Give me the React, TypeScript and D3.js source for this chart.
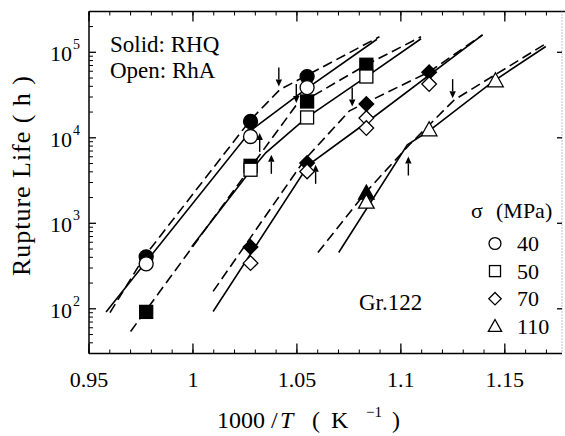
import React from "react";
import * as d3 from "d3";

type Pt = [number, number];

// x values: 1000/T for 750, 700, 675, 650, 625, 600 °C
const xTickValues = [0.95, 1.0, 1.05, 1.1, 1.15];
const xTickLabels = ["0.95", "1", "1.05", "1.1", "1.15"];
const xMinorValues = d3.range(0, 23).map((i) => 0.95 + i * 0.01);
const yTickValues = [100, 1000, 10000, 100000];
const yTickExps = ["2", "3", "4", "5"];

// Data points (filled = RHQ, open = RhA)
const rhq40: Pt[] = [[0.9775, 405], [1.0277, 15500], [1.0549, 52000]];
const rha40: Pt[] = [[0.9775, 336], [1.0277, 10350], [1.0549, 38700]];
const rhq50: Pt[] = [[0.9775, 92], [1.0277, 4700], [1.0549, 26600], [1.0834, 71500]];
const rha50: Pt[] = [[1.0277, 4230], [1.0549, 17300], [1.0834, 52100]];
const rhq70: Pt[] = [[1.0277, 527], [1.0549, 5060], [1.0834, 24800], [1.1136, 58600]];
const rha70: Pt[] = [[1.0277, 342], [1.0549, 4040], [1.0834, 17000], [1.0834, 13000], [1.1136, 42500]];
const rhq110: Pt[] = [[1.0834, 2250]];
const rha110: Pt[] = [[1.0834, 1770], [1.1136, 12400], [1.1455, 46400]];

// Fitted lines: solid = RhA, dashed = RHQ
const fitRha40: Pt[] = [[0.9582, 92], [1.0282, 12400], [1.0545, 37400], [1.0885, 142000]];
const fitRhq40: Pt[] = [[0.9601, 90], [0.9769, 417], [1.0278, 16300], [1.0417, 36400], [1.0897, 152000]];
const fitRha50: Pt[] = [[0.9994, 531], [1.0273, 4000], [1.035, 6680], [1.0545, 17100], [1.0833, 51600], [1.1097, 144000]];
const fitRhq50: Pt[] = [[0.97, 54.3], [1.0494, 23600], [1.0834, 71400], [1.1097, 152000]];
const fitRha70: Pt[] = [[1.0097, 93], [1.0556, 4830], [1.0833, 15000], [1.1393, 160000]];
const fitRhq70: Pt[] = [[1.0097, 160], [1.0537, 5530], [1.0753, 20700], [1.1137, 59200], [1.1393, 160000]];
const fitRha110: Pt[] = [[1.0701, 455], [1.1031, 8280], [1.1137, 12100], [1.1441, 45200], [1.1697, 117000]];
const fitRhq110: Pt[] = [[1.0601, 455], [1.0833, 2330], [1.1041, 8280], [1.1257, 27800], [1.1697, 126000]];

// Arrows marking the kinks (tip position)
const downArrows: Pt[] = [[1.0413, 39800], [1.0497, 25500], [1.0766, 23200], [1.1249, 29100]];
const upArrows: Pt[] = [[1.0321, 11400], [1.0377, 6320], [1.059, 4830], [1.1036, 6040]];

const legendLabels = ["40", "50", "70", "110"];
const legendShapes = ["circle", "square", "diamond", "triangle"];

const FONT = "Liberation Serif";

function Marker({ shape, x, y, filled, s = 1 }: { shape: string; x: number; y: number; filled: boolean; s?: number }) {
  const fill = filled ? "#000" : "#fff";
  const common = { fill, stroke: "#000", strokeWidth: 1.3 };
  if (shape === "circle") return <circle cx={x} cy={y} r={7 * s} {...common} />;
  if (shape === "square") {
    const h = 6.5 * s;
    return <rect x={x - h} y={y - h} width={2 * h} height={2 * h} {...common} />;
  }
  if (shape === "diamond") {
    const h = 7.3 * s;
    return <polygon points={`${x},${y - h} ${x + h},${y} ${x},${y + h} ${x - h},${y}`} {...common} />;
  }
  const w = 7.8 * s;
  return <polygon points={`${x},${y - 8 * s} ${x + w},${y + 6 * s} ${x - w},${y + 6 * s}`} {...common} />;
}

export default function App() {
  const left = 89, right = 562, top = 11.5, bottom = 353.5;
  const x = d3.scaleLinear().domain([0.95, 1.1775]).range([left, right]);
  const y = d3.scaleLog().domain([30, 300000]).range([bottom, top]);
  const line = d3.line<Pt>().x((d) => x(d[0])).y((d) => y(d[1]));

  const yMinor: number[] = [];
  for (let e = 1; e <= 5; e++) {
    for (let k = 2; k <= 9; k++) {
      const v = k * Math.pow(10, e);
      if (v >= 30 && v <= 300000) yMinor.push(v);
    }
  }

  const solidFits = [fitRha40, fitRha50, fitRha70, fitRha110];
  const dashedFits = [fitRhq40, fitRhq50, fitRhq70, fitRhq110];
  const filledSets: [string, Pt[]][] = [["circle", rhq40], ["square", rhq50], ["diamond", rhq70], ["triangle", rhq110]];
  const openSets: [string, Pt[]][] = [["circle", rha40], ["square", rha50], ["diamond", rha70], ["triangle", rha110]];

  const arrow = (px: number, py: number, dir: number, key: string) => {
    const len = 19, head = 7, hw = 3.2;
    const tail = py - dir * len;
    const base = py - dir * head;
    return (
      <g key={key}>
        <line x1={px} y1={tail} x2={px} y2={base} stroke="#000" strokeWidth={1.4} />
        <polygon points={`${px},${py} ${px - hw},${base} ${px + hw},${base}`} fill="#000" />
      </g>
    );
  };

  const ts = { fontFamily: FONT };

  return (
    <svg width={565} height={436} style={{ position: "absolute", left: 0, top: 0, background: "#fff" }}>
      <rect x={0} y={0} width={565} height={436} fill="#fff" />
      {dashedFits.map((d, i) => (
        <path key={"d" + i} d={line(d) || ""} fill="none" stroke="#000" strokeWidth={1.6} strokeDasharray="10,5" />
      ))}
      {solidFits.map((d, i) => (
        <path key={"s" + i} d={line(d) || ""} fill="none" stroke="#000" strokeWidth={1.6} />
      ))}
      {downArrows.map((d, i) => arrow(x(d[0]), y(d[1]), 1, "da" + i))}
      {upArrows.map((d, i) => arrow(x(d[0]), y(d[1]), -1, "ua" + i))}
      {filledSets.map(([shape, pts]) =>
        pts.map((p, j) => <Marker key={shape + "f" + j} shape={shape} x={x(p[0])} y={y(p[1])} filled={true} />)
      )}
      {openSets.map(([shape, pts]) =>
        pts.map((p, j) => <Marker key={shape + "o" + j} shape={shape} x={x(p[0])} y={y(p[1])} filled={false} />)
      )}

      <line x1={left} y1={top} x2={left} y2={bottom} stroke="#000" strokeWidth={1.5} />
      <line x1={left} y1={bottom} x2={right} y2={bottom} stroke="#000" strokeWidth={1.5} />
      <line x1={left} y1={top} x2={565} y2={top} stroke="#000" strokeWidth={1.5} />
      <line x1={right} y1={top} x2={right} y2={bottom} stroke="#888" strokeWidth={1} strokeDasharray="1,2" />

      {xMinorValues.map((v, i) => (
        <g key={"xm" + i}>
          <line x1={x(v)} x2={x(v)} y1={bottom} y2={bottom - 4} stroke="#000" strokeWidth={1} />
          <line x1={x(v)} x2={x(v)} y1={top} y2={top + 4} stroke="#000" strokeWidth={1} />
        </g>
      ))}
      {xTickValues.map((v, i) => (
        <g key={"xt" + i}>
          <line x1={x(v)} x2={x(v)} y1={bottom} y2={bottom - 10} stroke="#000" strokeWidth={1.3} />
          <line x1={x(v)} x2={x(v)} y1={top} y2={top + 10} stroke="#000" strokeWidth={1.3} />
          <text style={ts} x={x(v)} y={387} fontSize={22} textAnchor="middle">{xTickLabels[i]}</text>
        </g>
      ))}
      {yMinor.map((v, i) => (
        <line key={"ym" + i} x1={left} x2={left + 4} y1={y(v)} y2={y(v)} stroke="#000" strokeWidth={1} />
      ))}
      {yTickValues.map((v, i) => (
        <g key={"yt" + i}>
          <line x1={left} x2={left + 7} y1={y(v)} y2={y(v)} stroke="#000" strokeWidth={1.3} />
          <line x1={right} x2={right - 5} y1={y(v)} y2={y(v)} stroke="#000" strokeWidth={1.3} />
          <text style={ts} x={72} y={y(v) + 9} fontSize={22} textAnchor="end">10</text>
          <text style={ts} x={73} y={y(v) - 3} fontSize={14} textAnchor="start">{yTickExps[i]}</text>
        </g>
      ))}

      <text style={ts} x={110} y={52} fontSize={23}>Solid: RHQ</text>
      <text style={ts} x={110} y={78} fontSize={23}>Open: RhA</text>
      <text style={ts} x={359} y={310} fontSize={23}>Gr.122</text>

      <text style={ts} x={471} y={218} fontSize={22}>σ</text>
      <text style={ts} x={496} y={218} fontSize={22}>(MPa)</text>
      {legendLabels.map((lab, i) => {
        const cy = 243.5 + i * 27.6;
        return (
          <g key={"lg" + i}>
            <Marker shape={legendShapes[i]} x={495} y={cy} filled={false} s={0.85} />
            <text style={ts} x={517} y={cy + 7.5} fontSize={22}>{lab}</text>
          </g>
        );
      })}

      <text style={ts} fontSize={24} y={428}>
        <tspan x={217}>1000 /</tspan>
        <tspan x={280} fontStyle="italic">T</tspan>
        <tspan x={312}>(</tspan>
        <tspan x={331}>K</tspan>
        <tspan x={366} dy={-11} fontSize={15}>−1</tspan>
        <tspan x={392} dy={11}>)</tspan>
      </text>
      <text style={ts} transform="translate(30,176) rotate(-90)" fontSize={26} textAnchor="middle" textLength={200} lengthAdjust="spacing">
        Rupture Life ( h )
      </text>
    </svg>
  );
}
